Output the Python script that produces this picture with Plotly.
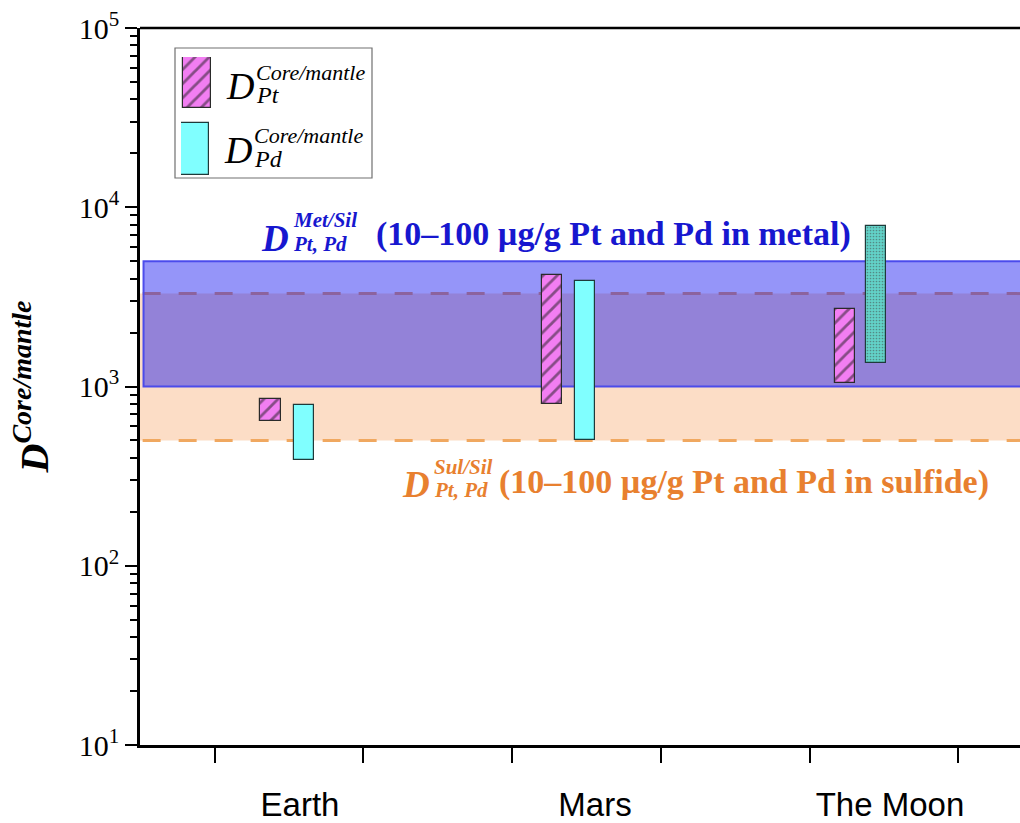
import plotly.graph_objects as go

# ---------------- data ----------------
categories = ["Earth", "Mars", "The Moon"]
cat_pos = [1, 2, 3]
pt_low = [640, 800, 1040]
pt_high = [850, 4200, 2700]
pd_low = [390, 500, 1350]
pd_high = [790, 3900, 7900]

met_sil_range = [1000, 5000]   # D Met/Sil band
sul_sil_range = [500, 3300]    # D Sul/Sil band

y_tickvals = [10, 100, 1000, 10000, 100000]
y_ticktext = ["10<sup>1</sup>", "10<sup>2</sup>", "10<sup>3</sup>", "10<sup>4</sup>", "10<sup>5</sup>"]
y_minor_vals = [m * d for d in [10, 100, 1000, 10000] for m in range(2, 10)]
x_tickvals = [0.712, 1.214, 1.719, 2.224, 2.729, 3.230]

# ---------------- layout constants ----------------
W, H = 1020, 823
L, R, T, B = 140, 0, 28, 78
PW, PH = W - L - R, H - T - B
pt_offset = [-0.10, -0.147, -0.153]
pd_offset = [0.014, -0.034, -0.046]
bar_w = 0.068
SERIF = "Liberation Serif"


def px(x):
    return (x - L) / PW


def py(y):
    return 1 - (y - T) / PH


fig = go.Figure()

PT_MARKER = dict(color="#f27ef2", line=dict(color="#2a2a2a", width=1.2),
                 pattern=dict(shape="/", fgcolor="#1a1a1a", bgcolor="#f27ef2",
                              size=10, solidity=0.28))

# Pt bars (hatched magenta)
fig.add_trace(go.Bar(
    x=[c + o for c, o in zip(cat_pos, pt_offset)],
    y=[h - l for h, l in zip(pt_high, pt_low)],
    base=pt_low, width=bar_w, marker=PT_MARKER,
    showlegend=False, xaxis="x", yaxis="y", hoverinfo="skip",
))

# Pd bars (cyan)
fig.add_trace(go.Bar(
    x=[c + o for c, o in zip(cat_pos, pd_offset)],
    y=[h - l for h, l in zip(pd_high, pd_low)],
    base=pd_low, width=bar_w,
    marker=dict(color=["#80ffff", "#80ffff", "#62d2c8"],
                line=dict(color="#1e3a3a", width=1.2),
                pattern=dict(shape=["", "", "."], fgcolor="#3f9f97",
                             bgcolor=["#80ffff", "#80ffff", "#66d6cc"],
                             size=3, solidity=0.25)),
    showlegend=False, xaxis="x", yaxis="y", hoverinfo="skip",
))

# invisible trace carrying the category axis
fig.add_trace(go.Scatter(
    x=cat_pos, y=[100] * len(cat_pos), mode="markers",
    marker=dict(opacity=0), showlegend=False, hoverinfo="skip",
    xaxis="x2", yaxis="y",
))

# legend swatches on a small helper axis
fig.add_trace(go.Bar(
    x=[0.53], y=[0.43], base=[0.57], width=[0.93], marker=PT_MARKER,
    showlegend=False, xaxis="x3", yaxis="y3", hoverinfo="skip",
))
fig.add_trace(go.Bar(
    x=[0.47], y=[0.44], base=[0.0], width=[0.93],
    marker=dict(color="#80ffff", line=dict(color="#1e3a3a", width=1.2)),
    showlegend=False, xaxis="x3", yaxis="y3", hoverinfo="skip",
))

shapes = [
    # orange Sul/Sil band
    dict(type="rect", xref="paper", yref="y", x0=0.0, x1=1.0,
         y0=sul_sil_range[0], y1=sul_sil_range[1],
         fillcolor="rgb(252,221,198)", line=dict(width=0), layer="below"),
    dict(type="line", xref="paper", yref="y", x0=0.003, x1=1.0,
         y0=sul_sil_range[1], y1=sul_sil_range[1],
         line=dict(color="rgb(240,168,96)", width=3, dash="18px,18px"), layer="below"),
    dict(type="line", xref="paper", yref="y", x0=0.003, x1=1.0,
         y0=sul_sil_range[0], y1=sul_sil_range[0],
         line=dict(color="rgb(240,168,96)", width=3, dash="18px,18px"), layer="below"),
    # blue Met/Sil band
    dict(type="rect", xref="paper", yref="y", x0=0.004, x1=1.02,
         y0=met_sil_range[0], y1=met_sil_range[1],
         fillcolor="rgba(10,10,240,0.43)",
         line=dict(color="rgba(70,70,235,0.95)", width=2), layer="below"),
    # top frame line
    dict(type="line", xref="paper", yref="paper", x0=0, x1=1, y0=1, y1=1,
         line=dict(color="black", width=2.5)),
    # legend box
    dict(type="rect", xref="paper", yref="paper",
         x0=px(175), x1=px(372), y0=py(178), y1=py(48),
         line=dict(color="#707070", width=1.2), fillcolor="rgba(0,0,0,0)"),
]

annotations = []


def ann(text, x, y, size, color="black", xanchor="left", bold=False, italic=True, family=SERIF):
    t = text
    if italic:
        t = "<i>" + t + "</i>"
    if bold:
        t = "<b>" + t + "</b>"
    annotations.append(dict(text=t, x=px(x), y=py(y), xref="paper", yref="paper",
                            xanchor=xanchor, yanchor="middle", showarrow=False,
                            font=dict(family=family, size=size, color=color)))


# legend texts
ann("D", 224, 86, 38)
ann("Core/mantle", 254, 72, 22)
ann("Pt", 254, 95, 24)
ann("D", 222, 150, 38)
ann("Core/mantle", 252, 136, 22)
ann("Pd", 252, 159, 24)

# blue label
BLUE = "#1717cf"
ann("D", 259, 238, 37, BLUE, bold=True)
ann("Met/Sil", 291, 220, 21, BLUE, bold=True)
ann("Pt, Pd", 291, 244, 21, BLUE, bold=True)
ann("(10\u2013100 \u00b5g/g Pt and Pd in metal)", 613, 234, 34, BLUE, xanchor="center", bold=True, italic=False)

# orange label
ORANGE = "#e8802f"
ann("D", 400, 484, 37, ORANGE, bold=True)
ann("Sul/Sil", 432, 467, 21, ORANGE, bold=True)
ann("Pt, Pd", 432, 490, 21, ORANGE, bold=True)
ann("(10\u2013100 \u00b5g/g Pt and Pd in sulfide)", 744, 482, 34, ORANGE, xanchor="center", bold=True, italic=False)

xr = [1 - (300 - L) / 295.0, 1 + (W - R - 300) / 295.0]

fig.update_layout(
    width=W, height=H,
    margin=dict(l=L, r=R, t=T, b=B, autoexpand=False),
    plot_bgcolor="white", paper_bgcolor="white",
    barmode="overlay", bargap=0,
    shapes=shapes, annotations=annotations,
    xaxis=dict(range=xr, domain=[0, 1], showline=True, linecolor="black", linewidth=2.5,
               tickvals=x_tickvals, ticktext=[""] * len(x_tickvals),
               ticks="outside", ticklen=15, tickwidth=2, tickcolor="black",
               showgrid=False, zeroline=False, fixedrange=True, automargin=False),
    xaxis2=dict(range=xr, overlaying="x", anchor="y", side="bottom",
                tickmode="array", tickvals=cat_pos, ticktext=categories,
                ticks="outside", ticklen=30, tickcolor="rgba(0,0,0,0)",
                tickfont=dict(family="Liberation Sans", size=33, color="black"),
                showline=False, showgrid=False, zeroline=False, automargin=False),
    yaxis=dict(type="log", range=[1, 5], domain=[0, 1], automargin=False,
               showline=True, linecolor="black", linewidth=2.5,
               tickmode="array", tickvals=y_tickvals, ticktext=y_ticktext,
               ticks="outside", ticklen=12, tickwidth=2, tickcolor="black",
               minor=dict(tickmode="array", tickvals=y_minor_vals,
                          ticks="outside", ticklen=7, tickwidth=1.5, tickcolor="black",
                          showgrid=False),
               tickfont=dict(family=SERIF, size=30, color="black"),
               showgrid=False, zeroline=False,
               title=dict(text="<b><i>D<sup>Core/mantle</sup></i></b>",
                          font=dict(family=SERIF, size=40, color="black"),
                          standoff=18)),
    xaxis3=dict(domain=[px(181), px(211)], range=[0, 1], anchor="y3", visible=False),
    yaxis3=dict(domain=[py(175), py(57)], range=[0, 1], anchor="x3", visible=False),
)

fig.write_html("out.html")
